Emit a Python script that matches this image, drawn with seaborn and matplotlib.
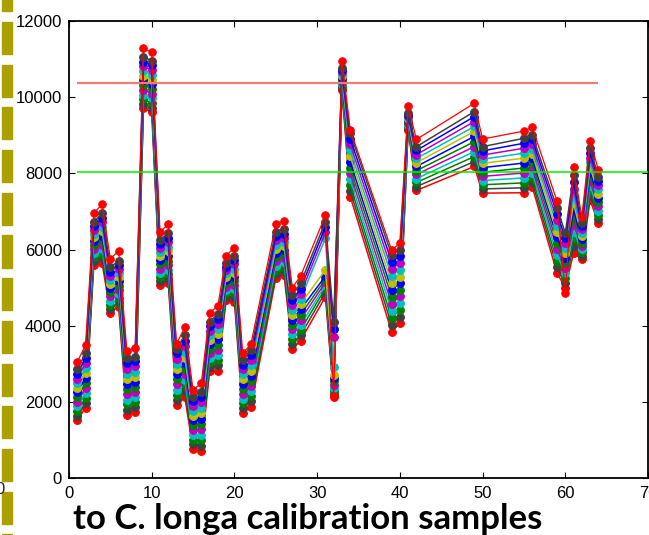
import matplotlib
matplotlib.use("Agg")
import matplotlib.pyplot as plt
from matplotlib.patches import Rectangle
import seaborn as sns

sns.set_style("ticks")
plt.rcParams["font.family"] = ["Liberation Sans", "DejaVu Sans"]

# sample indices that carry a measurement
positions = [1, 2, 3, 4, 5, 6, 7, 8, 9, 10, 11, 12, 13, 14, 15, 16, 17, 18, 19, 20,
             21, 22, 25, 26, 27, 28, 31, 32, 33, 34, 39, 40, 41, 42, 49, 50, 55, 56,
             59, 60, 61, 62, 63, 64]

s01 = [2850, 3280, 6730, 6950, 5530, 5710, 3140, 3190, 11050, 10960, 6250, 6430, 3400, 3750, 2140,
       2270, 4100, 4310, 5640, 5830, 3100, 3360, 6470, 6530, 4810, 5110, 6730, 4100, 10760, 9060,
       5860, 5990, 9580, 8700, 9620, 8700, 8920, 9010, 7090, 6430, 7960, 6700, 8660, 7910]
s02 = [2730, 3150, 6630, 6830, 5420, 5600, 3010, 3060, 10930, 10840, 6140, 6310, 3270, 3600, 2010,
       2130, 3980, 4180, 5550, 5720, 2970, 3230, 6360, 6420, 4680, 4970, 6600, 3900, 10710, 8910,
       5680, 5820, 9540, 8600, 9490, 8590, 8790, 8890, 6940, 6300, 7770, 6610, 8540, 7800]
s03 = [2610, 3020, 6520, 6710, 5310, 5490, 2870, 2930, 10810, 10710, 6040, 6190, 3130, 3460, 1890,
       1990, 3860, 4040, 5460, 5610, 2850, 3090, 6250, 6310, 4550, 4840, 6450, 3700, 10660, 8760,
       5490, 5640, 9500, 8490, 9360, 8480, 8660, 8760, 6780, 6170, 7590, 6530, 8410, 7690]
s04 = [2490, 2890, 6420, 6600, 5200, 5380, 2740, 2790, 10680, 10590, 5930, 6070, 3000, 3310, 1760,
       1840, 3750, 3910, 5380, 5500, 2720, 2960, 6130, 6200, 4420, 4700, 6300, 2920, 10600, 8600,
       5310, 5470, 9460, 8390, 9230, 8370, 8530, 8640, 6630, 6040, 7400, 6440, 8290, 7580]
s05 = [2370, 2760, 6320, 6480, 5090, 5270, 2600, 2660, 10560, 10460, 5820, 5950, 2860, 3160, 1640,
       1700, 3630, 3770, 5290, 5390, 2590, 2820, 6020, 6090, 4290, 4570, 5460, 2700, 10550, 8450,
       5120, 5290, 9420, 8280, 9100, 8260, 8400, 8510, 6470, 5910, 7210, 6360, 8160, 7470]
s06 = [2250, 2630, 6220, 6360, 4990, 5160, 2470, 2530, 10440, 10340, 5720, 5830, 2730, 3020, 1510,
       1560, 3510, 3640, 5200, 5290, 2470, 2690, 5910, 5990, 4160, 4430, 5300, 2620, 10500, 8300,
       4940, 5120, 9390, 8180, 8970, 8150, 8270, 8390, 6320, 5780, 7030, 6270, 8040, 7360]
s07 = [2120, 2490, 6110, 6240, 4880, 5050, 2330, 2400, 10320, 10220, 5610, 5710, 2590, 2870, 1380,
       1420, 3390, 3500, 5110, 5180, 2340, 2550, 5800, 5880, 4030, 4290, 5220, 2540, 10450, 8150,
       4760, 4940, 9350, 8070, 8830, 8030, 8140, 8270, 6160, 5650, 6840, 6180, 7920, 7240]
s08 = [2000, 2360, 6010, 6120, 4770, 4940, 2200, 2270, 10200, 10090, 5500, 5590, 2460, 2720, 1260,
       1280, 3270, 3370, 5020, 5070, 2210, 2420, 5690, 5770, 3900, 4160, 5140, 2450, 10400, 8000,
       4570, 4770, 9310, 7970, 8700, 7920, 8010, 8140, 6010, 5520, 6650, 6100, 7790, 7130]
s09 = [1880, 2230, 5910, 6010, 4660, 4830, 2060, 2130, 10070, 9970, 5390, 5470, 2320, 2570, 1130,
       1130, 3160, 3230, 4940, 4960, 2080, 2280, 5570, 5660, 3770, 4020, 5060, 2370, 10340, 7840,
       4390, 4590, 9270, 7860, 8570, 7810, 7880, 8020, 5850, 5390, 6460, 6010, 7670, 7020]
s10 = [1760, 2100, 5800, 5890, 4550, 4720, 1930, 2000, 9950, 9840, 5290, 5350, 2190, 2430, 1010,
       990, 3040, 3100, 4850, 4850, 1960, 2150, 5460, 5550, 3640, 3890, 4980, 2290, 10290, 7690,
       4200, 4420, 9230, 7760, 8440, 7700, 7750, 7890, 5700, 5260, 6280, 5930, 7540, 6910]
s11 = [1640, 1970, 5700, 5770, 4440, 4610, 1790, 1870, 9830, 9720, 5180, 5230, 2050, 2280, 880,
       850, 2920, 2960, 4760, 4740, 1830, 2010, 5350, 5440, 3510, 3750, 4880, 2210, 10240, 7540,
       4020, 4240, 9190, 7650, 8310, 7590, 7620, 7770, 5540, 5130, 6090, 5840, 7420, 6800]
s12 = [1520, 1840, 5600, 5650, 4330, 4500, 1660, 1740, 9710, 9600, 5070, 5110, 1920, 2130, 750,
       710, 2800, 2820, 4670, 4630, 1700, 1870, 5240, 5330, 3380, 3610, 4760, 2130, 10190, 7390,
       3840, 4060, 9150, 7550, 8180, 7480, 7490, 7650, 5380, 5000, 5900, 5750, 7300, 6690]
# the separate red profile that sits above the rest
s_top = [3050, 3490, 6950, 7190, 5750, 5970, 3330, 3420, 11280, 11180, 6470, 6660, 3520, 3960, 2310,
         2490, 4340, 4520, 5840, 6050, 3270, 3520, 6670, 6750, 5000, 5300, 6900, 2150, 10960, 9140,
         5990, 6160, 9770, 8890, 9840, 8900, 9110, 9210, 7270, 4850, 8160, 6850, 8860, 8090]

bundle = [s01, s02, s03, s04, s05, s06, s07, s08, s09, s10, s11, s12]
bundle_colors = ["#404040", "#0000ff", "#bf00bf", "#00bfbf", "#bfbf00", "#0000ff",
                 "#008000", "#bf00bf", "#00bfbf", "#008000", "#404040", "#ff0000"]

# limit lines
upper_limit = 10380
upper_span = (1, 64)
lower_limit = 8030
lower_span = (1, 71)

fig = plt.figure(figsize=(6.49, 5.35), dpi=100)
ax = fig.add_axes([69 / 649, 1 - 478 / 535, (648 - 69) / 649, (478 - 21) / 535])

for vals, col in reversed(list(zip(bundle, bundle_colors))):
    sns.lineplot(x=positions, y=vals, color=col, marker="o", markersize=5.6,
                 markeredgecolor=col, linewidth=1.1, ax=ax)
sns.lineplot(x=positions, y=s_top, color="#ff0000", marker="o", markersize=5.4,
             markeredgecolor="#ff0000", linewidth=0.9, ax=ax)

ax.hlines(upper_limit, *upper_span, color="#f47a7a", linewidth=1.6, zorder=5)
ax.hlines(lower_limit, *lower_span, color="#00ee00", linewidth=1.1, zorder=5)

ax.set_xlim(0, 70)
ax.set_ylim(0, 12000)
ax.set_xticks(range(0, 71, 10))
ax.set_yticks(range(0, 12001, 2000))
ax.tick_params(direction="in", length=4, top=True, right=True, labelsize=12, colors="black")
ax.tick_params(axis="x", pad=6)
ax.tick_params(axis="y", pad=5)
for sp in ax.spines.values():
    sp.set_color("black")
    sp.set_linewidth(1.3)
ax.set_xlabel("")
ax.set_ylabel("")

# slide decoration on the left edge
top = 22 - 42.7
while top < 535:
    fig.add_artist(Rectangle((2 / 649, 1 - (top + 32) / 535), 10 / 649, 32 / 535,
                             color="#aaa000", transform=fig.transFigure))
    top += 42.7
fig.text(0.0, 1 - 490 / 535, "0", ha="center", va="center", fontsize=12)

fig.text(73 / 649, 6 / 535, "to C. longa calibration samples", fontsize=25,
         fontweight="bold", family=["Lato", "DejaVu Sans"], color="black")

fig.savefig("out.png", dpi=100)
